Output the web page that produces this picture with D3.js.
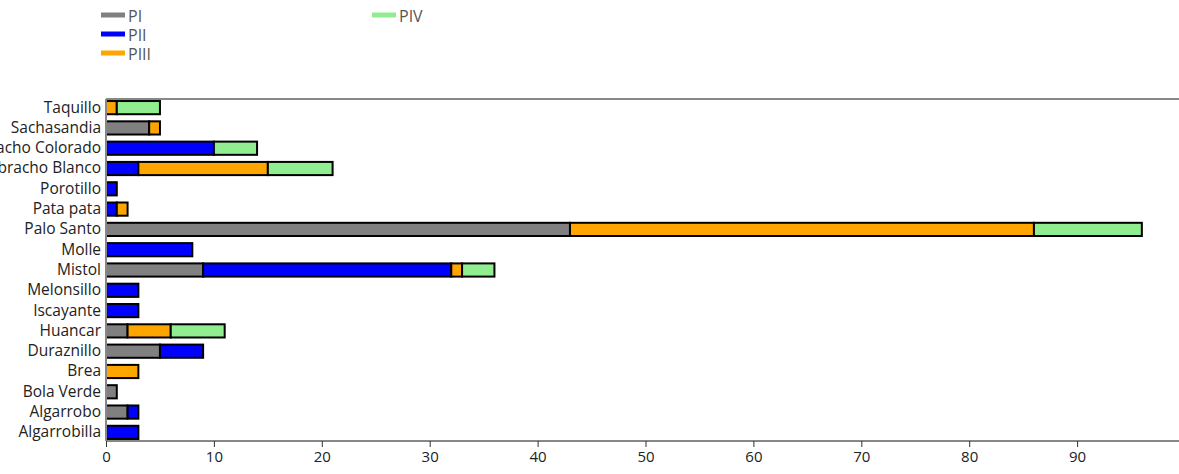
<!DOCTYPE html>
<html>
<head>
<meta charset="utf-8">
<script src="https://cdn.jsdelivr.net/npm/d3@7"></script>
<style>
    body { margin: 0; background: #fff; }
    svg { display: block; }
    svg text { font-family: "Open Sans", sans-serif; }
</style>
</head>
<body>
<svg id="chart" width="1179" height="474"></svg>
<script>
// species, top to bottom
var species = ["Taquillo", "Sachasandia", "Quebracho Colorado", "Quebracho Blanco",
    "Porotillo", "Pata pata", "Palo Santo", "Molle", "Mistol", "Melonsillo",
    "Iscayante", "Huancar", "Duraznillo", "Brea", "Bola Verde", "Algarrobo", "Algarrobilla"];

var seriesNames = ["PI", "PII", "PIII", "PIV"];
var seriesColors = ["#808080", "#0000ff", "#ffa500", "#90ee90"];

var PI   = [0, 4, 0, 0, 0, 0, 43, 0, 9, 0, 0, 2, 5, 0, 1, 2, 0];
var PII  = [0, 0, 10, 3, 1, 1, 0, 8, 23, 3, 3, 0, 4, 0, 0, 1, 3];
var PIII = [1, 1, 0, 12, 0, 1, 43, 0, 1, 0, 0, 4, 0, 3, 0, 0, 0];
var PIV  = [4, 0, 4, 6, 0, 0, 10, 0, 3, 0, 0, 5, 0, 0, 0, 0, 0];

var xTicks = [0, 10, 20, 30, 40, 50, 60, 70, 80, 90];

var rows = species.map(function (s, i) {
    return { name: s, PI: PI[i], PII: PII[i], PIII: PIII[i], PIV: PIV[i] };
});

var svg = d3.select("#chart");
var plotLeft = 106, plotRight = 1185, plotTop = 99, plotBottom = 441;

var x = d3.scaleLinear().domain([0, 100]).range([plotLeft, plotRight]);
var y = d3.scaleBand().domain(species).range([plotTop, plotBottom])
    .paddingInner(0.35).paddingOuter(0.1);
var color = d3.scaleOrdinal().domain(seriesNames).range(seriesColors);

var stack = d3.stack().keys(seriesNames)(rows);

// top frame line
svg.append("line")
    .attr("x1", plotLeft).attr("x2", 1179).attr("y1", plotTop).attr("y2", plotTop)
    .style("stroke", "#888").style("stroke-width", 2);

// bars
svg.append("g").selectAll("g")
    .data(stack)
    .enter().append("g")
    .style("fill", function (d) { return color(d.key); })
    .selectAll("rect")
    .data(function (d) { return d.filter(function (p) { return p[1] > p[0]; }); })
    .enter().append("rect")
    .attr("x", function (d) { return x(d[0]); })
    .attr("y", function (d) { return y(d.data.name); })
    .attr("width", function (d) { return x(d[1]) - x(d[0]); })
    .attr("height", y.bandwidth())
    .style("stroke", "#000")
    .style("stroke-width", 2);

// x axis
var xAxis = svg.append("g")
    .attr("transform", "translate(0," + plotBottom + ")")
    .call(d3.axisBottom(x).tickValues(xTicks).tickSize(6).tickSizeOuter(0));
xAxis.select(".domain").attr("d", "M" + plotLeft + ",0H1179").style("stroke", "#888").style("stroke-width", 2);
xAxis.selectAll(".tick line").style("stroke", "#333");
xAxis.selectAll("text").style("font-size", "15px").style("fill", "#222").attr("dy", "0.8em");

// y axis
var yAxis = svg.append("g")
    .attr("transform", "translate(" + plotLeft + ",0)")
    .call(d3.axisLeft(y).tickSize(0).tickPadding(5));
yAxis.select(".domain").attr("d", "M0," + plotTop + "V" + plotBottom).style("stroke", "#888").style("stroke-width", 2);
yAxis.selectAll("text").style("font-size", "15.5px").style("fill", "#222");

// legend
var legendPos = [[101, 15], [101, 34], [101, 53], [372, 15]];
var legend = svg.append("g").selectAll("g")
    .data(seriesNames)
    .enter().append("g")
    .attr("transform", function (d, i) { return "translate(" + legendPos[i][0] + "," + legendPos[i][1] + ")"; });
legend.append("rect")
    .attr("x", 0).attr("y", -2.5).attr("width", 24).attr("height", 5)
    .style("fill", function (d) { return color(d); });
legend.append("text")
    .attr("x", 27).attr("y", 1).attr("dy", "0.35em")
    .style("font-size", "16px").style("fill", "#555")
    .text(function (d) { return d; });
</script>
</body>
</html>
